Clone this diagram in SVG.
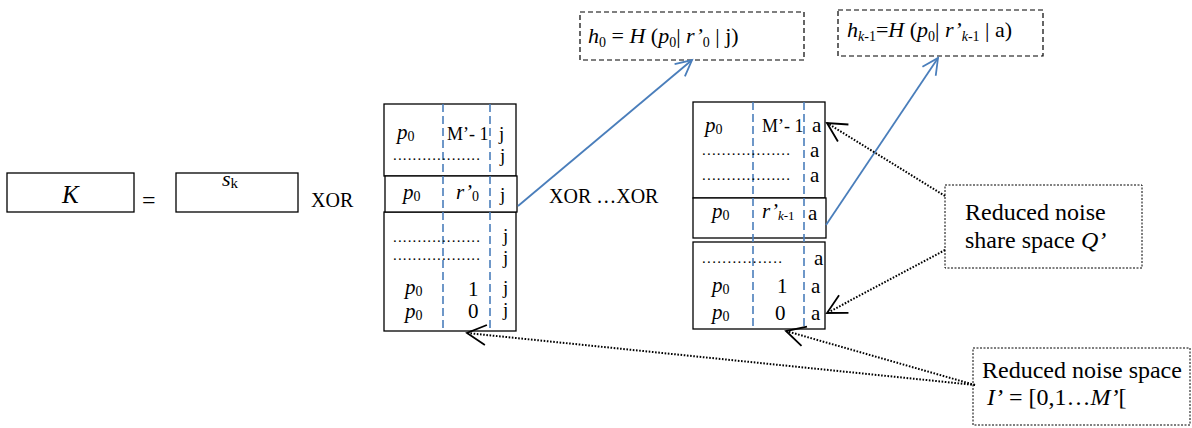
<svg xmlns="http://www.w3.org/2000/svg" width="1192" height="428" viewBox="0 0 1192 428" font-family="'Liberation Serif','Times New Roman',serif">
<defs>
<style>
text{font-family:"Liberation Serif","Times New Roman",serif;fill:#000;}
.t{font-size:21px;}
.j{font-size:19px;}
.d{font-size:15px;}
.sm{font-size:18px;}
.i{font-style:italic;}
.box{fill:#fff;stroke:#000;stroke-width:1.3;}
.dash{fill:none;stroke:#000;stroke-width:1.2;stroke-dasharray:5 3;}
.dot{fill:none;stroke:#000;stroke-width:1;stroke-dasharray:2 1.5;}
.vb{stroke:#4a7ebb;stroke-width:1.6;stroke-dasharray:8 4;fill:none;}
.blue{stroke:#4a7ebb;stroke-width:1.8;fill:none;}
.dl{stroke:#000;stroke-width:2;stroke-dasharray:1.6 1.6;fill:none;}
</style>
<marker id="ab" markerUnits="userSpaceOnUse" markerWidth="30" markerHeight="30" viewBox="-25 -15 30 30" refX="0" refY="0" orient="auto">
<path d="M-16,-8 L0,0 L-16,8" fill="none" stroke="#4a7ebb" stroke-width="1.8"/>
</marker>
<marker id="ak" markerUnits="userSpaceOnUse" markerWidth="30" markerHeight="30" viewBox="-25 -15 30 30" refX="0" refY="0" orient="auto">
<path d="M-19,-10 L0,0 L-19,10" fill="none" stroke="#000" stroke-width="1.8"/>
</marker>
</defs>

<g id="K">
<rect class="box" x="7" y="173" width="127" height="39"/>
<text x="62" y="203" font-size="25" class="i">K</text>
</g>
<text x="142" y="208" font-size="24">=</text>
<g id="sk">
<rect class="box" x="176" y="173" width="122" height="39"/>
<text x="222" y="186" font-size="22"><tspan class="i">s</tspan><tspan font-size="15" dy="2">k</tspan></text>
</g>
<text x="311" y="207" font-size="20">XOR</text>

<g id="tableLeft">
<rect class="box" x="384" y="104" width="132" height="72"/>
<rect class="box" x="384" y="212" width="132" height="119"/>
<rect class="box" x="385" y="176" width="132" height="36"/>
<line class="vb" x1="443" y1="104" x2="443" y2="331"/>
<line class="vb" x1="490" y1="104" x2="490" y2="331"/>
<text class="t" x="397" y="139"><tspan class="i">p</tspan><tspan font-size="14" dy="2">0</tspan></text>
<text class="sm" x="447" y="140">M’- 1</text>
<text class="j" x="499" y="140">j</text>
<text class="d" x="393" y="160" textLength="87" lengthAdjust="spacing">..................</text>
<text class="j" x="500" y="162">j</text>
<text class="t" x="403" y="199"><tspan class="i">p</tspan><tspan font-size="14" dy="2">0</tspan></text>
<text class="t" x="456" y="199"><tspan class="i">r’</tspan><tspan font-size="14" dy="2">0</tspan></text>
<text class="j" x="500" y="201">j</text>
<text class="d" x="393" y="242" textLength="87" lengthAdjust="spacing">..................</text>
<text class="j" x="503" y="242" font-size="18">j</text>
<text class="d" x="393" y="260" textLength="87" lengthAdjust="spacing">..................</text>
<text class="j" x="503" y="264" font-size="18">j</text>
<text class="t" x="405" y="294"><tspan class="i">p</tspan><tspan font-size="14" dy="2">0</tspan></text>
<text class="t" x="468" y="296">1</text>
<text class="j" x="503" y="294">j</text>
<text class="t" x="405" y="318"><tspan class="i">p</tspan><tspan font-size="14" dy="2">0</tspan></text>
<text class="t" x="468" y="318">0</text>
<text class="j" x="503" y="316">j</text>
</g>

<text x="549" y="203" font-size="20">XOR …XOR</text>

<g id="tableRight">
<rect class="box" x="693" y="102" width="132" height="96"/>
<rect class="box" x="693" y="242" width="132" height="87"/>
<rect class="box" x="693" y="198" width="133" height="40"/>
<line class="vb" x1="753" y1="102" x2="753" y2="329"/>
<line class="vb" x1="804" y1="102" x2="804" y2="329"/>
<text class="t" x="705" y="132"><tspan class="i">p</tspan><tspan font-size="14" dy="2">0</tspan></text>
<text class="sm" x="762" y="132">M’- 1</text>
<text class="t" x="812" y="132">a</text>
<text class="d" x="702" y="155" textLength="88" lengthAdjust="spacing">..................</text>
<text class="t" x="810" y="157">a</text>
<text class="d" x="702" y="180" textLength="88" lengthAdjust="spacing">..................</text>
<text class="t" x="810" y="182">a</text>
<text class="t" x="712" y="218"><tspan class="i">p</tspan><tspan font-size="14" dy="2">0</tspan></text>
<text class="t" x="762" y="218"><tspan class="i">r’</tspan><tspan font-size="13" dy="2"><tspan class="i">k</tspan>-1</tspan></text>
<text class="t" x="808" y="220">a</text>
<text class="d" x="702" y="263" textLength="80" lengthAdjust="spacing">................</text>
<text class="t" x="814" y="265">a</text>
<text class="t" x="712" y="292"><tspan class="i">p</tspan><tspan font-size="14" dy="2">0</tspan></text>
<text class="t" x="777" y="293">1</text>
<text class="t" x="811" y="293">a</text>
<text class="t" x="712" y="319"><tspan class="i">p</tspan><tspan font-size="14" dy="2">0</tspan></text>
<text class="t" x="775" y="320">0</text>
<text class="t" x="811" y="320">a</text>
</g>

<g id="h0">
<rect class="dash" x="580" y="12" width="224" height="48"/>
<text x="588" y="43" font-size="22"><tspan class="i">h</tspan><tspan font-size="14" dy="4">0</tspan><tspan dy="-4"> = </tspan><tspan class="i">H</tspan> (<tspan class="i">p</tspan><tspan font-size="14" dy="4">0</tspan><tspan dy="-4">| </tspan><tspan class="i">r’</tspan><tspan font-size="14" dy="4">0</tspan><tspan dy="-4"> | j)</tspan></text>
</g>

<g id="hk1">
<rect class="dash" x="838" y="10" width="205" height="46"/>
<text x="847" y="37" font-size="22"><tspan class="i">h</tspan><tspan font-size="14" dy="4"><tspan class="i">k</tspan>-1</tspan><tspan dy="-4">=</tspan><tspan class="i">H</tspan> (<tspan class="i">p</tspan><tspan font-size="14" dy="4">0</tspan><tspan dy="-4">| </tspan><tspan class="i">r’</tspan><tspan font-size="14" dy="4"><tspan class="i">k</tspan>-1</tspan><tspan dy="-4"> | a)</tspan></text>
</g>

<g id="Qspace">
<rect class="dot" x="945" y="185" width="197" height="83"/>
<text x="965" y="220" font-size="24">Reduced noise</text>
<text x="965" y="248" font-size="24">share space <tspan class="i">Q’</tspan></text>
</g>

<g id="Ispace">
<rect class="dot" x="973" y="348" width="217" height="77"/>
<text x="982" y="378" font-size="24">Reduced noise space</text>
<text x="987" y="405" font-size="24"><tspan class="i">I’</tspan> = [0,1…<tspan class="i">M’</tspan>[</text>
</g>

<g id="connectors">
<line class="blue" x1="518" y1="206" x2="692" y2="60" marker-end="url(#ab)"/>
<line class="blue" x1="826" y1="225" x2="938" y2="58" marker-end="url(#ab)"/>
<line class="dl" x1="945" y1="196" x2="827" y2="123" marker-end="url(#ak)"/>
<line class="dl" x1="945" y1="250" x2="827" y2="313" marker-end="url(#ak)"/>
<line class="dl" x1="975" y1="385" x2="467" y2="333" marker-end="url(#ak)"/>
<line class="dl" x1="975" y1="385" x2="786" y2="331" marker-end="url(#ak)"/>
</g>
</svg>
